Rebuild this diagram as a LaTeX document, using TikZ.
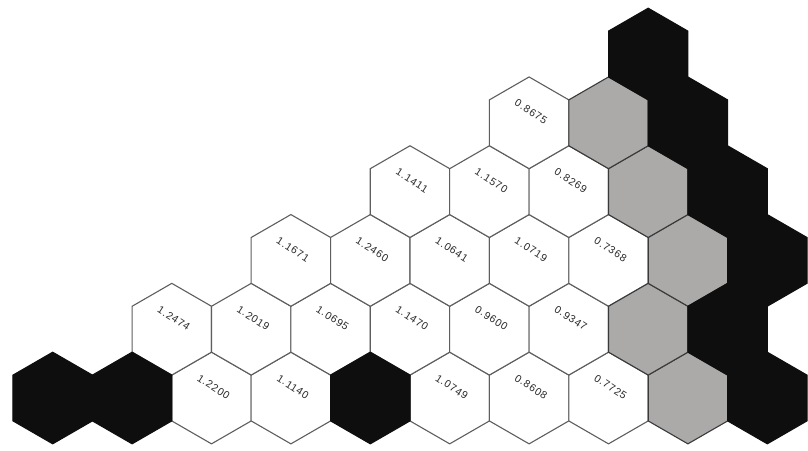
\documentclass[tikz,border=0pt]{standalone}
\usepackage{fontspec}
\setmainfont{Liberation Sans}
\newfontfamily\numfont[LetterSpace=8]{Liberation Sans}
\usetikzlibrary{shapes.geometric}
\definecolor{hexline}{HTML}{5E5E5E}
\definecolor{hexgray}{HTML}{ACA9A9}
\definecolor{hexgrayline}{HTML}{3A3A3A}
\definecolor{hexblack}{HTML}{0E0E0E}
\definecolor{numtext}{HTML}{2A2A2A}
\tikzset{
  hexbase/.style={regular polygon, regular polygon sides=6, regular polygon rotate=30,
    minimum size=91.7pt, inner sep=0pt, outer sep=0pt},
  hexw/.style={hexbase, draw=hexline, fill=white, line width=1.1pt},
  hexg/.style={hexbase, draw=hexgrayline, fill=hexgray, line width=1.1pt},
  hexb/.style={hexbase, draw=hexblack, fill=hexblack, line width=1pt},
  num/.style={text=numtext, font=\numfont\fontsize{10.5}{12}\selectfont, rotate=-33, inner sep=0pt}
}
\begin{document}
\begin{tikzpicture}[x=1pt,y=-1pt]
\useasboundingbox (0,0) rectangle (808,450);
\fill[white] (0,0) rectangle (808,450);
% white numbered hexagons: row / half-column / value
\foreach \r/\c/\t in {0/4/1.2200, 0/6/1.1140, 0/10/1.0749, 0/12/0.8608, 0/14/0.7725,
  1/3/1.2474, 1/5/1.2019, 1/7/1.0695, 1/9/1.1470, 1/11/0.9600, 1/13/0.9347,
  2/6/1.1671, 2/8/1.2460, 2/10/1.0641, 2/12/1.0719, 2/14/0.7368,
  3/9/1.1411, 3/11/1.1570, 3/13/0.8269,
  4/12/0.8675}{
  \node[hexw] (w\r-\c) at ({52.7+39.7*\c},{398-68.8*\r}) {};
  \node[num] (t\r-\c) at ([xshift=2pt,yshift=11pt]w\r-\c.center) {\t};
}
% gray hexagons
\foreach \r/\c in {0/16, 1/15, 2/16, 3/15, 4/14}{
  \node[hexg] (g\r-\c) at ({52.7+39.7*\c},{398-68.8*\r}) {};
}
% black hexagons
\foreach \r/\c in {0/0, 0/2, 0/8, 0/18, 1/17, 2/18, 3/17, 4/16, 5/15}{
  \node[hexb] (b\r-\c) at ({52.7+39.7*\c},{398-68.8*\r}) {};
}
\end{tikzpicture}
\end{document}
